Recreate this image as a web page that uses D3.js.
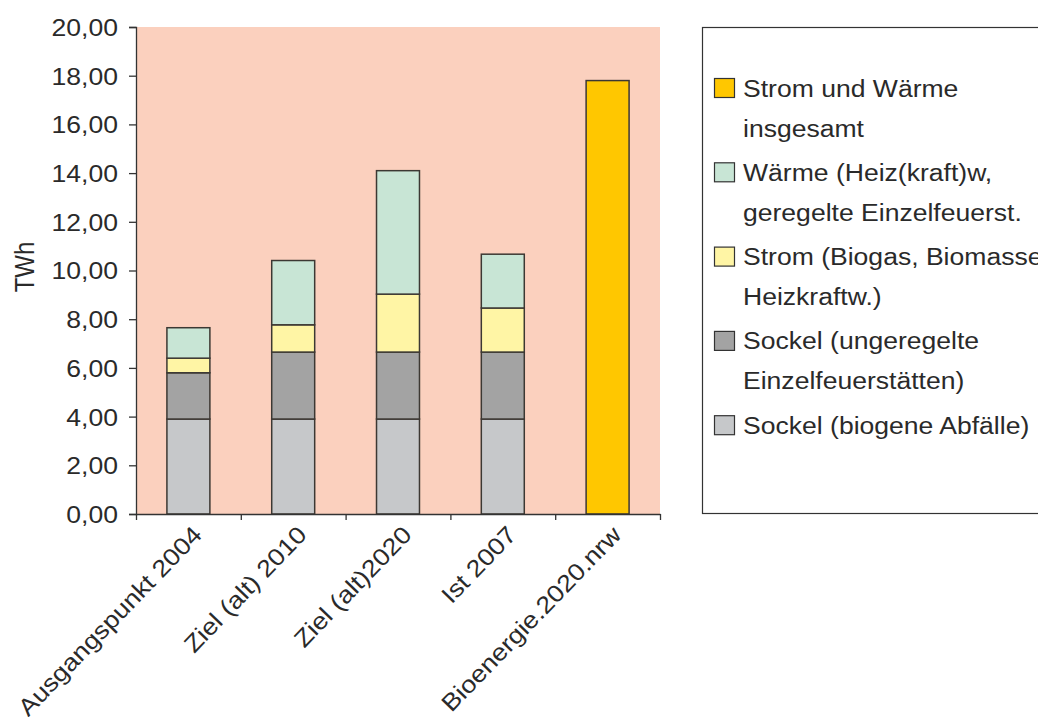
<!DOCTYPE html>
<html>
<head>
<meta charset="utf-8">
<script src="https://cdn.jsdelivr.net/npm/d3@7"></script>
<style>
  body { margin: 0; background: #fff; }
  svg { display: block; }
  text { font-family: "Liberation Sans", Arial, sans-serif; fill: #2a2a2a; }
</style>
</head>
<body>
<svg id="chart" width="1038" height="717"></svg>
<script>
// Bioenergie in NRW, TWh
const categories = ["Ausgangspunkt 2004", "Ziel (alt) 2010", "Ziel (alt)2020", "Ist 2007", "Bioenergie.2020.nrw"];
const sockelAbfaelle = [3.9, 3.9, 3.9, 3.9, 0];       // Sockel (biogene Abfälle)
const sockelEinzel   = [1.9, 2.75, 2.75, 2.75, 0];    // Sockel (ungeregelte Einzelfeuerstätten)
const stromBiomasse  = [0.6, 1.12, 2.38, 1.81, 0];    // Strom (Biogas, Biomasse-Heizkraftw.)
const waerme         = [1.25, 2.64, 5.07, 2.21, 0];   // Wärme (Heiz(kraft)w, geregelte Einzelfeuerst.)
const gesamt         = [0, 0, 0, 0, 17.8];            // Strom und Wärme insgesamt
const yTicks = [0, 2, 4, 6, 8, 10, 12, 14, 16, 18, 20];

const seriesKeys = ["sockelAbfaelle", "sockelEinzel", "stromBiomasse", "waerme", "gesamt"];
const seriesColors = {
  sockelAbfaelle: "#c6c8ca",
  sockelEinzel: "#a3a3a3",
  stromBiomasse: "#fff5a5",
  waerme: "#c8e5d5",
  gesamt: "#ffc700"
};
const legendItems = [
  { key: "gesamt", lines: ["Strom und Wärme", "insgesamt"] },
  { key: "waerme", lines: ["Wärme (Heiz(kraft)w,", "geregelte Einzelfeuerst."] },
  { key: "stromBiomasse", lines: ["Strom (Biogas, Biomasse-", "Heizkraftw.)"] },
  { key: "sockelEinzel", lines: ["Sockel (ungeregelte", "Einzelfeuerstätten)"] },
  { key: "sockelAbfaelle", lines: ["Sockel (biogene Abfälle)"] }
];

const rows = categories.map((c, i) => ({
  category: c,
  sockelAbfaelle: sockelAbfaelle[i],
  sockelEinzel: sockelEinzel[i],
  stromBiomasse: stromBiomasse[i],
  waerme: waerme[i],
  gesamt: gesamt[i]
}));

const svg = d3.select("#chart");
const plot = { left: 136, right: 660, top: 27, bottom: 514 };
const stretch = 1.13;   // text is set slightly wide
const fontSize = 23.5;

const x = d3.scaleBand().domain(categories).range([plot.left, plot.right])
  .paddingInner(0.59).paddingOuter(0.295);
const xEdges = d3.scaleLinear().domain([0, categories.length]).range([plot.left, plot.right]);
const y = d3.scaleLinear().domain([0, 20]).range([plot.bottom, plot.top]);

const de = d3.formatLocale({ decimal: ",", thousands: ".", grouping: [3], currency: ["", " €"] });
const fmt = de.format(".2f");

// plot background
svg.append("rect")
  .attr("x", plot.left).attr("y", plot.top)
  .attr("width", plot.right - plot.left).attr("height", plot.bottom - plot.top)
  .attr("fill", "#fbd0be");

// stacked bars
const stacked = d3.stack().keys(seriesKeys)(rows);
svg.append("g").selectAll("g")
  .data(stacked).join("g")
  .attr("fill", d => seriesColors[d.key])
  .selectAll("rect")
  .data(d => d.filter(s => s[1] - s[0] > 0))
  .join("rect")
  .attr("x", d => x(d.data.category))
  .attr("width", x.bandwidth())
  .attr("y", d => y(d[1]))
  .attr("height", d => y(d[0]) - y(d[1]))
  .attr("stroke", "#3c3833")
  .attr("stroke-width", 1.5);

// y axis
const yAxis = svg.append("g")
  .attr("transform", `translate(${plot.left},0)`)
  .call(d3.axisLeft(y).tickValues(yTicks).tickSize(7).tickFormat(fmt));
yAxis.select(".domain").attr("stroke", "#333").attr("stroke-width", 1.3);
yAxis.selectAll(".tick line").attr("stroke", "#333").attr("stroke-width", 1.3);
yAxis.selectAll(".tick text")
  .attr("x", -18 / stretch)
  .attr("dy", "0.36em")
  .attr("transform", `scale(${stretch},1)`)
  .style("font-size", fontSize + "px")
  .style("font-family", '"Liberation Sans", Arial, sans-serif')
  .attr("fill", "#2a2a2a");

// x axis with tick marks on the category boundaries
const xAxis = svg.append("g")
  .attr("transform", `translate(0,${plot.bottom})`)
  .call(d3.axisBottom(xEdges).tickValues(d3.range(categories.length + 1)).tickSize(6).tickSizeOuter(0).tickFormat(""));
xAxis.select(".domain").attr("stroke", "#333").attr("stroke-width", 1.3);
xAxis.selectAll(".tick line").attr("stroke", "#333").attr("stroke-width", 1.3);

// rotated category labels
svg.append("g").selectAll("text")
  .data(categories).join("text")
  .attr("text-anchor", "end")
  .attr("transform", d => `translate(${x(d) + x.bandwidth() / 2 + 15},${plot.bottom + 22}) rotate(-46) scale(${stretch * 0.99},1)`)
  .style("font-size", "24px")
  .text(d => d);

// y axis title
svg.append("text")
  .attr("text-anchor", "middle")
  .attr("transform", `translate(34,267) scale(${stretch},1) rotate(-90)`)
  .style("font-size", "24px")
  .text("TWh");

// legend
const legend = svg.append("g");
legend.append("rect")
  .attr("x", 702.5).attr("y", 27.5)
  .attr("width", 420).attr("height", 486)
  .attr("fill", "#fff").attr("stroke", "#333").attr("stroke-width", 1.2);

const itemStep = 84.3;
const lineStep = 40;
const items = legend.selectAll("g.item").data(legendItems).join("g")
  .attr("class", "item")
  .attr("transform", (d, i) => `translate(0,${88 + i * itemStep})`);
items.append("rect")
  .attr("x", 714.5).attr("y", -9.5)
  .attr("width", 20).attr("height", 19)
  .attr("fill", d => seriesColors[d.key])
  .attr("stroke", "#333").attr("stroke-width", 1.2);
items.each(function (d) {
  d3.select(this).selectAll("text").data(d.lines).join("text")
    .attr("transform", (t, j) => `translate(743,${8.5 + j * lineStep}) scale(${stretch},1)`)
    .style("font-size", fontSize + "px")
    .text(t => t);
});
</script>
</body>
</html>
